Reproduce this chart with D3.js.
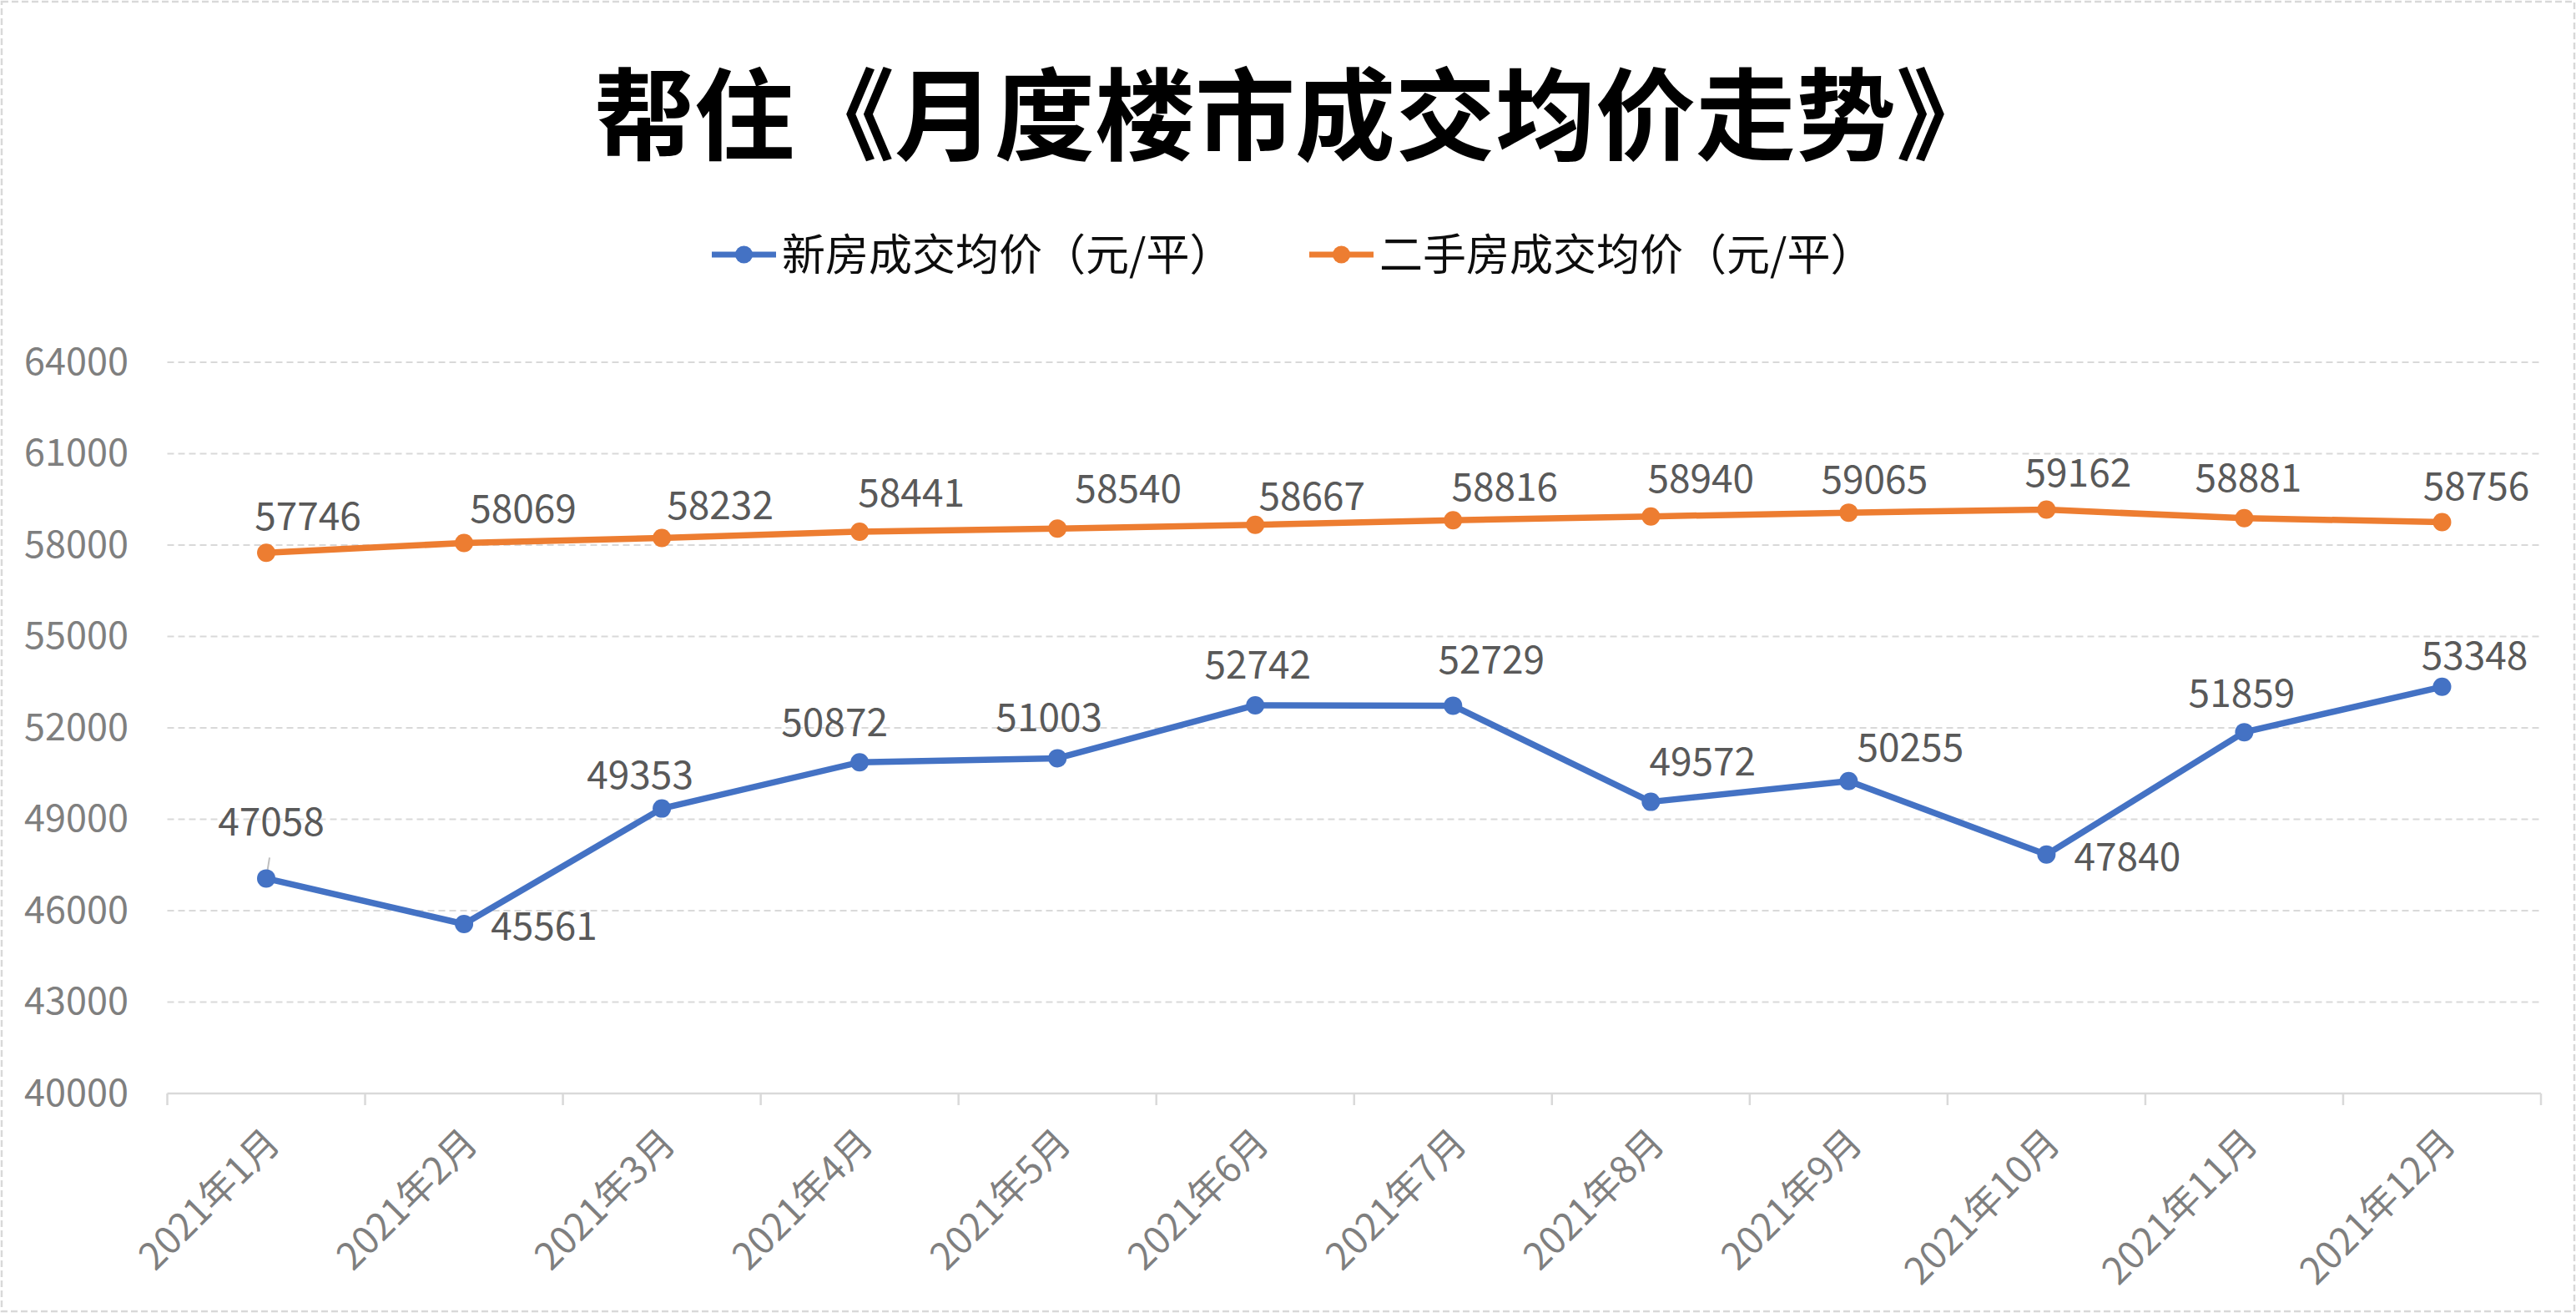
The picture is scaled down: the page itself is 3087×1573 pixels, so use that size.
<!DOCTYPE html>
<html>
<head>
<meta charset="utf-8">
<script src="https://cdn.jsdelivr.net/npm/d3@7"></script>
<style>
  html, body { margin: 0; padding: 0; background: #fff; }
  svg { display: block; }
  text { font-family: "Noto Sans CJK SC", "Noto Sans", sans-serif; }
</style>
</head>
<body>
<svg id="chart" width="3087" height="1573"></svg>
<script>
// ---- data ----
const months = ["2021年1月","2021年2月","2021年3月","2021年4月","2021年5月","2021年6月",
                "2021年7月","2021年8月","2021年9月","2021年10月","2021年11月","2021年12月"];
const newHouse = [47058, 45561, 49353, 50872, 51003, 52742, 52729, 49572, 50255, 47840, 51859, 53348];
const secondHand = [57746, 58069, 58232, 58441, 58540, 58667, 58816, 58940, 59065, 59162, 58881, 58756];
const yTicks = [40000, 43000, 46000, 49000, 52000, 55000, 58000, 61000, 64000];
const seriesNames = ["新房成交均价（元/平）", "二手房成交均价（元/平）"];
const titleText = "帮住《月度楼市成交均价走势》";

// ---- layout (label placement offsets, px) ----
const newLabelOffsets = [[6,-68],[96,2],[-26,-40],[-30,-48],[-10,-49],[3,-48],[46,-55],[62,-48],[74,-40],[97,3],[-3,-47],[39,-37]];
const oldLabelOffsets = [[50,-44],[71,-41],[70,-39],[62,-46],[85,-48],[68,-34],[62,-40],[60,-45],[31,-40],[38,-44],[5,-48],[41,-43]];

const svg = d3.select("#chart");
const W = 3087, H = 1573;
const colors = ["#4472C4", "#ED7D31"];

// border
svg.append("rect").attr("x", 2).attr("y", 2).attr("width", W - 4).attr("height", H - 4)
  .attr("fill", "#fff").attr("stroke", "#d9d9d9").attr("stroke-width", 2.5).attr("stroke-dasharray", "8,4");

// scales
const x = d3.scaleBand().domain(months).range([200.5, 3045]).paddingInner(0).paddingOuter(0);
const cx = d => x(d) + x.bandwidth() / 2;
const y = d3.scaleLinear().domain([40000, 64000]).range([1310, 434]);

// title
svg.append("text").attr("x", 1552).attr("y", 183).attr("text-anchor", "middle")
  .attr("font-size", 120).attr("font-weight", 700).attr("fill", "#000").text(titleText);

// legend
const legendItems = [
  { name: seriesNames[0], color: colors[0], x0: 853 },
  { name: seriesNames[1], color: colors[1], x0: 1569 }
];
legendItems.forEach(it => {
  const g = svg.append("g");
  g.append("line").attr("x1", it.x0).attr("x2", it.x0 + 77).attr("y1", 305).attr("y2", 305)
    .attr("stroke", it.color).attr("stroke-width", 7);
  g.append("circle").attr("cx", it.x0 + 38.5).attr("cy", 305).attr("r", 10.5).attr("fill", it.color);
  g.append("text").attr("x", it.x0 + 84).attr("y", 305).attr("dy", "0.36em")
    .attr("font-size", 52).attr("fill", "#0d0d0d").text(it.name);
});

// gridlines
svg.append("g").selectAll("line").data(yTicks.filter(t => t !== 40000)).join("line")
  .attr("x1", 200.5).attr("x2", 3045).attr("y1", d => y(d)).attr("y2", d => y(d))
  .attr("stroke", "#d9d9d9").attr("stroke-width", 2).attr("stroke-dasharray", "8,5");

// y axis labels
const yAxis = d3.axisLeft(y).tickValues(yTicks).tickSize(0).tickPadding(0).tickFormat(d3.format("d"));
const yg = svg.append("g").attr("transform", "translate(154,0)").call(yAxis);
yg.select(".domain").remove();
yg.selectAll("text").attr("font-size", 45).attr("fill", "#7f7f7f")
  .attr("font-family", "'Noto Sans CJK SC','Noto Sans',sans-serif");

// x axis
const xAxis = d3.axisBottom(x).tickSize(0).tickFormat(d => d);
const xg = svg.append("g").attr("transform", "translate(0,1310)").call(xAxis);
xg.select(".domain").attr("stroke", "#d9d9d9").attr("stroke-width", 2.5)
  .attr("d", `M200.5,0H3045`);
// category boundary ticks
const bounds = months.map(m => x(m)).concat([x(months[months.length - 1]) + x.bandwidth()]);
xg.append("g").selectAll("line").data(bounds).join("line")
  .attr("x1", d => d).attr("x2", d => d).attr("y1", 0).attr("y2", 14)
  .attr("stroke", "#d9d9d9").attr("stroke-width", 2.5);
xg.selectAll(".tick text")
  .attr("font-size", 45).attr("fill", "#7f7f7f")
  .attr("font-family", "'Noto Sans CJK SC','Noto Sans',sans-serif")
  .attr("text-anchor", "end").attr("dy", null).attr("y", null)
  .attr("transform", "translate(19,62) rotate(-45)");

// lines & markers
const line = d3.line().x((d, i) => cx(months[i])).y(d => y(d));
const series = [
  { vals: secondHand, color: colors[1], offs: oldLabelOffsets },
  { vals: newHouse, color: colors[0], offs: newLabelOffsets }
];

// leader line for first new-house label
svg.append("line").attr("x1", cx(months[0]) + 4).attr("y1", y(newHouse[0]) - 25)
  .attr("x2", cx(months[0])).attr("y2", y(newHouse[0]))
  .attr("stroke", "#bfbfbf").attr("stroke-width", 2);

series.forEach(s => {
  svg.append("path").datum(s.vals).attr("d", line).attr("fill", "none")
    .attr("stroke", s.color).attr("stroke-width", 7.5).attr("stroke-linejoin", "round");
  svg.append("g").selectAll("circle").data(s.vals).join("circle")
    .attr("cx", (d, i) => cx(months[i])).attr("cy", d => y(d)).attr("r", 11).attr("fill", s.color);
  svg.append("g").selectAll("text").data(s.vals).join("text")
    .attr("x", (d, i) => cx(months[i]) + s.offs[i][0])
    .attr("y", (d, i) => y(d) + s.offs[i][1])
    .attr("dy", "0.36em").attr("text-anchor", "middle")
    .attr("font-size", 46).attr("fill", "#595959").text(d => d);
});
</script>
</body>
</html>
